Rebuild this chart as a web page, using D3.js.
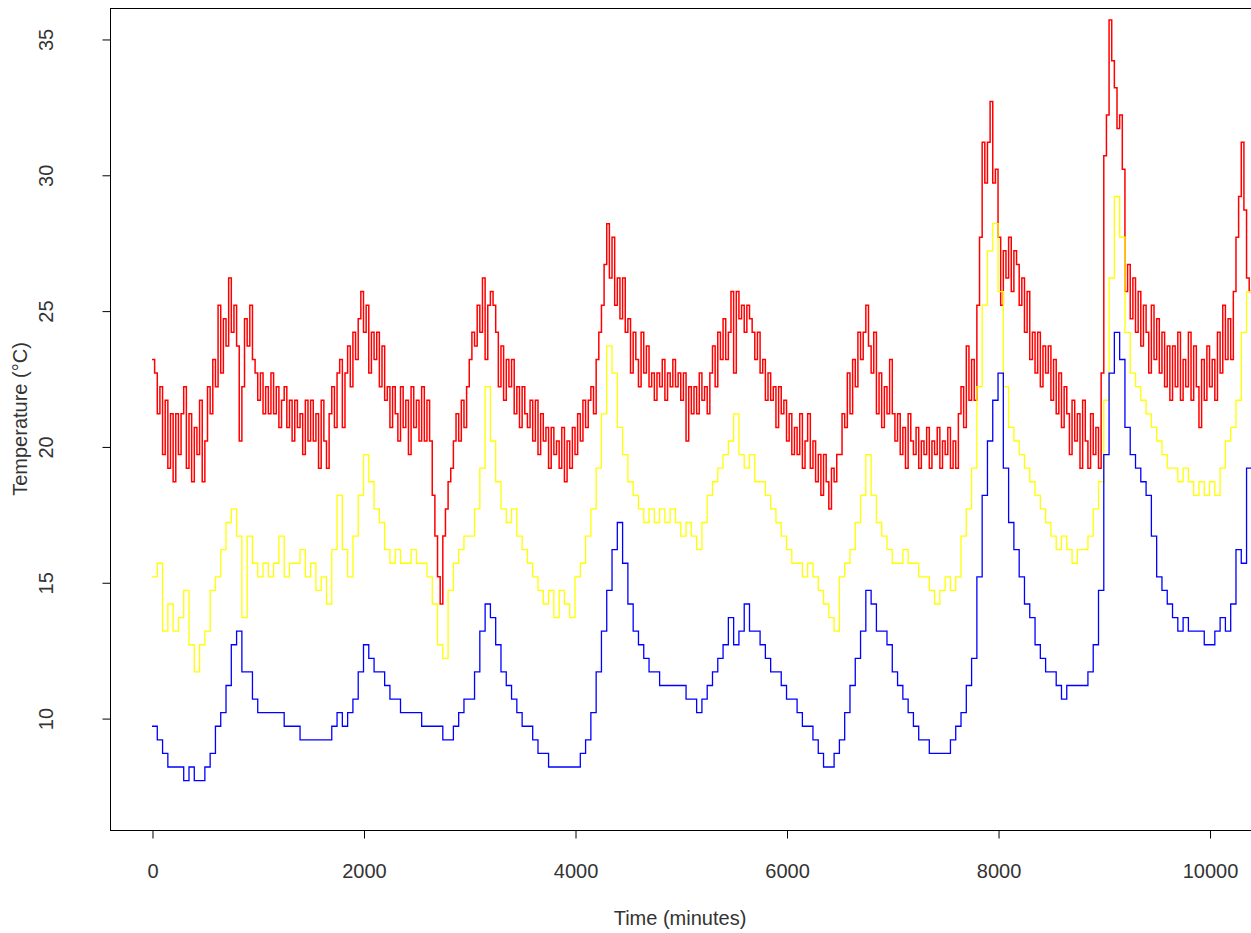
<!DOCTYPE html>
<html>
<head>
<meta charset="utf-8">
<script src="https://cdn.jsdelivr.net/npm/d3@7"></script>
<style>
  body { margin: 0; background: #fff; }
  text { font-family: "Liberation Sans", Arial, sans-serif; }
</style>
</head>
<body>
<svg id="chart" width="1251" height="933"></svg>
<script>
// Sampling interval (minutes) of each logged series
const redStep = 25;
const yellowStep = 50;
const blueStep = 50;

// Logged temperatures (°C), one reading per step starting at minute 0
const redTemp = [
  23.2, 22.7, 21.2, 22.2, 19.7, 21.7, 19.2, 21.2, 18.7, 21.2,
  19.7, 21.2, 22.2, 19.2, 21.2, 18.7, 20.7, 19.7, 21.7, 18.7,
  20.2, 22.2, 21.2, 23.2, 22.2, 25.2, 22.7, 24.7, 23.7, 26.2,
  24.2, 25.2, 23.7, 20.2, 22.2, 24.7, 23.7, 25.2, 23.2, 22.7,
  21.7, 22.7, 21.2, 22.2, 21.2, 22.7, 21.2, 22.2, 20.7, 21.7,
  22.2, 20.7, 21.7, 20.2, 21.7, 20.7, 21.2, 19.7, 21.7, 20.2,
  21.7, 20.2, 21.2, 19.2, 21.7, 20.2, 19.2, 21.2, 22.2, 20.7,
  22.7, 23.2, 20.7, 22.7, 23.7, 22.2, 24.2, 23.2, 24.7, 25.7,
  24.2, 25.2, 22.7, 24.2, 23.2, 24.2, 22.2, 23.7, 21.7, 22.2,
  20.7, 22.2, 21.2, 20.2, 22.2, 20.7, 21.7, 19.7, 22.2, 20.7,
  21.7, 20.2, 22.2, 20.2, 21.7, 20.2, 18.2, 16.7, 15.2, 14.2,
  16.7, 17.7, 18.7, 19.2, 20.2, 21.2, 20.2, 21.7, 20.7, 22.2,
  23.2, 24.2, 23.7, 25.2, 24.2, 26.2, 23.2, 25.2, 25.7, 25.2,
  24.2, 22.2, 23.7, 21.7, 23.2, 22.2, 23.2, 21.2, 22.2, 20.7,
  22.2, 21.2, 20.7, 21.7, 20.2, 21.7, 19.7, 21.2, 20.2, 20.7,
  19.2, 20.7, 19.7, 20.2, 19.2, 20.7, 18.7, 20.2, 19.2, 20.7,
  19.7, 21.2, 20.2, 21.7, 20.7, 21.7, 22.2, 21.2, 23.2, 24.2,
  25.2, 26.7, 28.2, 26.2, 27.7, 25.2, 26.2, 24.7, 26.2, 24.2,
  24.7, 22.7, 24.2, 23.2, 22.2, 24.2, 22.7, 23.7, 22.2, 22.7,
  21.7, 22.7, 22.2, 23.2, 21.7, 22.7, 22.2, 23.2, 22.2, 22.7,
  21.7, 22.7, 20.2, 22.2, 21.2, 22.2, 21.2, 22.7, 21.7, 22.2,
  21.2, 22.7, 23.7, 22.2, 24.2, 23.2, 24.7, 23.2, 24.2, 25.7,
  22.7, 25.7, 24.7, 25.2, 24.2, 25.2, 24.7, 24.2, 23.2, 24.2,
  22.7, 23.2, 21.7, 22.7, 21.7, 22.2, 20.7, 22.2, 21.2, 21.7,
  20.2, 21.2, 19.7, 20.7, 19.7, 21.2, 19.2, 20.2, 21.2, 19.2,
  20.2, 18.7, 19.7, 18.2, 19.7, 18.7, 17.7, 19.2, 18.7, 19.7,
  19.7, 21.2, 20.7, 22.7, 21.2, 23.2, 22.2, 24.2, 23.2, 24.2,
  25.2, 23.7, 22.7, 24.2, 21.2, 22.7, 20.7, 22.2, 21.2, 23.2,
  21.2, 20.2, 21.2, 19.7, 20.7, 19.2, 21.2, 20.2, 19.7, 20.7,
  19.2, 20.2, 19.7, 20.7, 19.2, 20.2, 19.7, 20.7, 19.2, 20.2,
  19.7, 20.7, 19.2, 20.2, 19.2, 21.2, 22.2, 20.7, 23.7, 21.7,
  23.2, 21.7, 25.2, 27.7, 31.2, 29.7, 31.2, 32.7, 29.7, 30.2,
  27.7, 25.2, 27.2, 26.2, 27.7, 25.7, 27.2, 26.7, 25.2, 26.2,
  24.2, 25.7, 23.2, 24.2, 22.7, 24.2, 22.2, 23.7, 22.7, 23.7,
  21.7, 23.2, 21.2, 22.7, 20.7, 22.2, 21.2, 19.7, 21.7, 20.2,
  21.2, 19.2, 21.7, 20.2, 19.2, 21.2, 19.7, 20.7, 19.2, 22.7,
  30.7, 32.2, 35.7, 34.2, 33.2, 31.7, 32.2, 30.2, 25.7, 26.7,
  24.7, 26.2, 24.2, 25.7, 23.7, 25.2, 24.2, 22.7, 25.2, 23.2,
  24.7, 22.7, 24.2, 22.2, 23.7, 21.7, 23.7, 22.2, 24.2, 21.7,
  23.2, 22.2, 24.2, 21.7, 23.7, 22.2, 20.7, 23.2, 21.7, 23.7,
  22.2, 23.2, 21.7, 24.2, 22.7, 25.2, 23.2, 24.7, 23.2, 25.7,
  27.7, 29.2, 31.2, 28.7, 26.2, 25.7, 24.2
];

const yellowTemp = [
  15.2, 15.7, 13.2, 14.2, 13.2, 13.7, 14.7, 12.7, 11.7, 12.7,
  13.2, 14.7, 15.2, 16.2, 17.2, 17.7, 16.7, 13.7, 16.7, 15.7,
  15.2, 15.7, 15.2, 15.7, 16.7, 15.2, 15.7, 15.7, 16.2, 15.2,
  15.7, 14.7, 15.2, 14.2, 16.2, 18.2, 16.2, 15.2, 16.7, 18.2,
  19.7, 18.7, 17.7, 17.2, 16.2, 15.7, 16.2, 15.7, 15.7, 16.2,
  15.7, 15.7, 15.2, 14.2, 12.7, 12.2, 14.7, 15.7, 16.2, 16.7,
  16.7, 17.7, 19.2, 22.2, 20.2, 18.7, 17.7, 17.2, 17.7, 16.7,
  16.2, 15.7, 15.2, 14.7, 14.2, 14.7, 13.7, 14.7, 14.2, 13.7,
  15.2, 15.7, 16.7, 17.7, 19.2, 21.2, 23.7, 22.7, 20.7, 19.7,
  18.7, 18.2, 17.7, 17.2, 17.7, 17.2, 17.7, 17.2, 17.7, 17.2,
  16.7, 17.2, 16.7, 16.2, 17.2, 18.2, 18.7, 19.2, 19.7, 20.2,
  21.2, 19.7, 19.2, 19.7, 18.7, 18.7, 18.2, 17.7, 17.2, 16.7,
  16.2, 15.7, 15.7, 15.2, 15.7, 15.2, 14.7, 14.2, 13.7, 13.2,
  15.2, 15.7, 16.2, 17.2, 18.2, 19.7, 18.2, 17.2, 16.7, 16.2,
  15.7, 15.7, 16.2, 15.7, 15.7, 15.2, 15.2, 14.7, 14.2, 14.7,
  15.2, 14.7, 15.2, 16.7, 17.7, 19.2, 22.2, 25.2, 27.2, 28.2,
  25.7, 22.2, 20.7, 20.2, 19.7, 19.2, 18.7, 18.2, 17.7, 17.2,
  16.7, 16.2, 16.7, 16.2, 15.7, 16.2, 16.2, 16.7, 17.7, 18.7,
  21.7, 26.2, 29.2, 27.7, 24.2, 22.7, 22.2, 21.7, 21.2, 20.7,
  20.2, 19.7, 19.2, 19.2, 18.7, 19.2, 18.7, 18.2, 18.7, 18.2,
  18.7, 18.2, 19.2, 20.2, 20.7, 21.7, 24.2, 25.7, 22.2
];

const blueTemp = [
  9.7, 9.2, 8.7, 8.2, 8.2, 8.2, 7.7, 8.2, 7.7, 7.7,
  8.2, 8.7, 9.7, 10.2, 11.2, 12.7, 13.2, 11.7, 11.7, 10.7,
  10.2, 10.2, 10.2, 10.2, 10.2, 9.7, 9.7, 9.7, 9.2, 9.2,
  9.2, 9.2, 9.2, 9.2, 9.7, 10.2, 9.7, 10.2, 10.7, 11.7,
  12.7, 12.2, 11.7, 11.7, 11.2, 10.7, 10.7, 10.2, 10.2, 10.2,
  10.2, 9.7, 9.7, 9.7, 9.7, 9.2, 9.2, 9.7, 10.2, 10.7,
  10.7, 11.7, 13.2, 14.2, 13.7, 12.7, 11.7, 11.2, 10.7, 10.2,
  9.7, 9.7, 9.2, 8.7, 8.7, 8.2, 8.2, 8.2, 8.2, 8.2,
  8.2, 8.7, 9.2, 10.2, 11.7, 13.2, 14.7, 16.2, 17.2, 15.7,
  14.2, 13.2, 12.7, 12.2, 11.7, 11.7, 11.2, 11.2, 11.2, 11.2,
  11.2, 10.7, 10.7, 10.2, 10.7, 11.2, 11.7, 12.2, 12.7, 13.7,
  12.7, 13.2, 14.2, 13.2, 13.2, 12.7, 12.2, 11.7, 11.7, 11.2,
  10.7, 10.7, 10.2, 9.7, 9.7, 9.2, 8.7, 8.2, 8.2, 8.7,
  9.2, 10.2, 11.2, 12.2, 13.2, 14.7, 14.2, 13.2, 13.2, 12.7,
  11.7, 11.2, 10.7, 10.2, 9.7, 9.2, 9.2, 8.7, 8.7, 8.7,
  8.7, 9.2, 9.7, 10.2, 11.2, 12.2, 15.2, 18.2, 20.2, 21.7,
  22.7, 19.2, 17.2, 16.2, 15.2, 14.2, 13.7, 12.7, 12.2, 11.7,
  11.7, 11.2, 10.7, 11.2, 11.2, 11.2, 11.2, 11.7, 12.7, 14.7,
  19.7, 22.7, 24.2, 23.2, 20.7, 19.7, 19.2, 18.7, 18.2, 16.7,
  15.2, 14.7, 14.2, 13.7, 13.2, 13.7, 13.2, 13.2, 13.2, 12.7,
  12.7, 13.2, 13.7, 13.2, 14.2, 16.2, 15.7, 19.2, 17.7
];

// Axis ticks and titles
const xTicks = [0, 2000, 4000, 6000, 8000, 10000];
const yTicks = [10, 15, 20, 25, 30, 35];
const xTitle = "Time (minutes)";
const yTitle = "Temperature (°C)";

// Layout of the plotting region (its right edge lies on the page border)
const plot = { left: 110, right: 1251, top: 8, bottom: 830 };
const tickLen = 8;
const fontSize = 20;
const textColor = "#333";
const fontStack = "'Liberation Sans', Arial, sans-serif";

const svg = d3.select("#chart");

const x = d3.scaleLinear().domain([-397, 10392]).range([plot.left, plot.right]);
const y = d3.scaleLinear().domain([5.88, 36.14]).range([plot.bottom, plot.top]);

svg.append("defs").append("clipPath").attr("id", "plot-clip")
  .append("rect")
  .attr("x", plot.left).attr("y", plot.top)
  .attr("width", plot.right - plot.left).attr("height", plot.bottom - plot.top);

const series = [
  { values: redTemp, step: redStep, color: "#ff0000", width: 1.5 },
  { values: yellowTemp, step: yellowStep, color: "#ffff00", width: 1.3 },
  { values: blueTemp, step: blueStep, color: "#0000ff", width: 1.3 }
];

const line = d3.line()
  .x(d => x(d.t))
  .y(d => y(d.v))
  .curve(d3.curveStepAfter);

const lines = svg.append("g").attr("clip-path", "url(#plot-clip)");
series.forEach(s => {
  const pts = s.values.map((v, i) => ({ t: i * s.step, v }));
  lines.append("path")
    .datum(pts)
    .attr("fill", "none")
    .attr("stroke", s.color)
    .attr("stroke-width", s.width)
    .attr("stroke-linejoin", "miter")
    .attr("d", line);
});

// Frame around the plotting region
svg.append("rect")
  .attr("x", plot.left + 0.5).attr("y", plot.top + 0.5)
  .attr("width", plot.right - plot.left).attr("height", plot.bottom - plot.top)
  .attr("fill", "none").attr("stroke", "#000").attr("stroke-width", 1);

// Bottom axis
const gx = svg.append("g")
  .attr("transform", `translate(0.5,${plot.bottom + 0.5})`)
  .call(d3.axisBottom(x).tickValues(xTicks).tickSize(tickLen).tickFormat(d3.format("d")));
gx.select(".domain").remove();
gx.selectAll(".tick line").attr("stroke", "#000");
gx.selectAll(".tick text")
  .attr("y", 40).attr("dy", "0.35em")
  .attr("font-size", fontSize).attr("fill", textColor)
  .style("font-family", fontStack);

// Left axis with labels running parallel to it
const gy = svg.append("g")
  .attr("transform", `translate(${plot.left + 0.5},0.5)`)
  .call(d3.axisLeft(y).tickValues(yTicks).tickSize(tickLen).tickFormat(d3.format("d")));
gy.select(".domain").remove();
gy.selectAll(".tick line").attr("stroke", "#000");
gy.selectAll(".tick text")
  .attr("x", null)
  .attr("text-anchor", "middle")
  .attr("transform", "translate(-65,0) rotate(-90)")
  .attr("dy", "0.35em")
  .attr("font-size", fontSize).attr("fill", textColor)
  .style("font-family", fontStack);

// Axis titles
svg.append("text")
  .attr("x", 680).attr("y", 918)
  .attr("dy", "0.35em").attr("text-anchor", "middle")
  .attr("font-size", fontSize).attr("fill", textColor)
  .style("font-family", fontStack)
  .text(xTitle);

svg.append("text")
  .attr("transform", `translate(20,${(plot.top + plot.bottom) / 2}) rotate(-90)`)
  .attr("dy", "0.35em").attr("text-anchor", "middle")
  .attr("font-size", fontSize).attr("fill", textColor)
  .style("font-family", fontStack)
  .text(yTitle);
</script>
</body>
</html>
